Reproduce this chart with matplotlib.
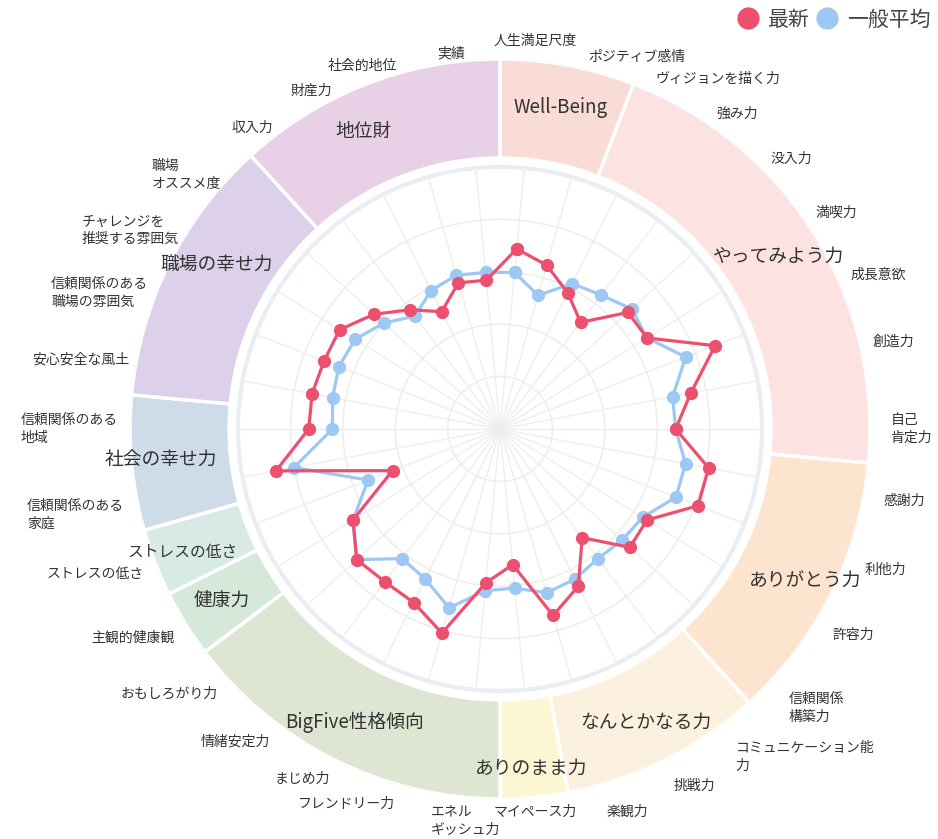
import numpy as np
import matplotlib.pyplot as plt
from matplotlib.lines import Line2D

plt.rcParams['font.family'] = ['Noto Sans CJK JP', 'DejaVu Sans']

# axis labels, clockwise from the top
labels = [
    '人生満足尺度', 'ポジティブ感情',
    'ヴィジョンを描く力', '強み力', '没入力', '満喫力', '成長意欲', '創造力', '自己\n肯定力',
    '感謝力', '利他力', '許容力', '信頼関係\n構築力',
    'コミュニケーション能\n力', '挑戦力', '楽観力',
    'マイペース力',
    'エネル\nギッシュ力', 'フレンドリー力', 'まじめ力', '情緒安定力', 'おもしろがり力',
    '主観的健康観',
    'ストレスの低さ',
    '信頼関係のある\n家庭', '信頼関係のある\n地域',
    '安心安全な風土', '信頼関係のある\n職場の雰囲気', 'チャレンジを\n推奨する雰囲気', '職場\nオススメ度',
    '収入力', '財産力', '社会的地位', '実績',
]

latest = [69, 65, 58, 51, 66, 66, 88, 74, 67, 81, 81, 66, 67, 52, 67, 74, 52,
          59, 81, 74, 73, 74, 66, 44, 87, 73, 73, 72, 72, 65, 57, 50, 58, 57]
average = [60, 53, 62, 64, 68, 66, 76, 67, 67, 72, 72, 64, 63, 62, 64, 65, 61,
           62, 71, 64, 62, 74, 66, 54, 80, 64, 65, 66, 65, 60, 54, 59, 61, 60]

groups = ['Well-Being', 'やってみよう力', 'ありがとう力', 'なんとかなる力', 'ありのまま力',
          'BigFive性格傾向', '健康力', 'ストレスの低さ', '社会の幸せ力', '職場の幸せ力', '地位財']
group_sizes = [2, 7, 4, 3, 1, 5, 1, 1, 2, 4, 4]
group_colors = ['#F9DCD5', '#FDE2E2', '#FDE4CE', '#FCF1DF', '#FCF6D2', '#DEE6D3',
                '#D5E8DA', '#D8EAE5', '#CEDBE9', '#DCD0EA', '#E8D0E6']

red = '#EC506E'
blue = '#9DC8F3'

n = len(labels)
step = 2 * np.pi / n
theta = (np.arange(n) + 0.5) * step
rmax = 141.2

fig = plt.figure(figsize=(9.38, 8.39), dpi=100)
ax = fig.add_axes([0.1386, 0.0477, 0.789, 0.882], projection='polar')
ax.set_theta_zero_location('N')
ax.set_theta_direction(-1)
ax.set_ylim(0, rmax)
ax.axis('off')

# outer ring with group bands
sizes = np.array(group_sizes)
starts = np.concatenate([[0], np.cumsum(sizes)[:-1]])
mids = (starts + sizes / 2) * step
ax.bar(mids, rmax - 103.4, width=sizes * step, bottom=103.4,
       color=group_colors, edgecolor='white', linewidth=2.5)
for g, m in zip(groups, mids):
    fs = 11.3 if g == 'ストレスの低さ' else 13.5
    r = 130 if g in ('ありのまま力', 'ストレスの低さ', '社会の幸せ力', 'ありがとう力') else 125
    if g == '地位財':
        m -= 0.06
    if g == '職場の幸せ力':
        m += 0.06
    ax.text(m, r, g, ha='center', va='center', fontsize=fs, color='#333333')

# grid
circ = np.linspace(0, 2 * np.pi, 400)
for r in [20, 40, 60, 80]:
    ax.plot(circ, [r] * len(circ), color='#EEEEEE', lw=1.2, zorder=1)
ax.plot(circ, [100] * len(circ), color='#E9EEF5', lw=3, zorder=1)
for t in theta:
    ax.plot([t, t], [0, 100], color='#EEEEEE', lw=1, zorder=1)

# series
tc = np.append(theta, theta[0])
ax.plot(tc, average + average[:1], color=blue, lw=2.3, marker='o', ms=8.5, zorder=3)
ax.plot(tc, latest + latest[:1], color=red, lw=2.3, marker='o', ms=8.5, zorder=4)

# axis labels
for lab, t in zip(labels, theta):
    s, c = np.sin(t), np.cos(t)
    r, a = 146, t
    if 0 <= s < 0.1:
        ha = 'center'
        va = 'bottom' if c > 0 else 'top'
        r = 146 if c > 0 else 144
    elif s < 0 and abs(s) < 0.1 and c < 0:
        ha, va, r = 'center', 'top', 144
    elif s > 0 and c > 0.1:
        # upper right
        ha, va, a = 'left', 'center', t - 0.045
    elif s > 0 and c <= 0.1:
        # lower right
        ha, r = 'left', 149
        va = 'center' if abs(c) < 0.6 else 'top'
    elif c > 0.1:
        # upper left
        ha, va, r = 'right', 'center', 144
    else:
        # lower left
        ha = 'right'
        va = 'center' if abs(c) < 0.1 else 'top'
    ax.text(a, r, lab, ha=ha, va=va, fontsize=10, color='#333333',
            multialignment='left', linespacing=1.35, clip_on=False)

handles = [Line2D([], [], marker='o', ls='', color=red, ms=15, label='最新'),
           Line2D([], [], marker='o', ls='', color=blue, ms=15, label='一般平均')]
fig.legend(handles=handles, loc='upper right', bbox_to_anchor=(1.012, 1.012), ncol=2,
           frameon=False, fontsize=15, handlelength=1.0, handletextpad=0.45,
           columnspacing=0.35, labelcolor='#444444')

fig.savefig('out.png', dpi=100)
